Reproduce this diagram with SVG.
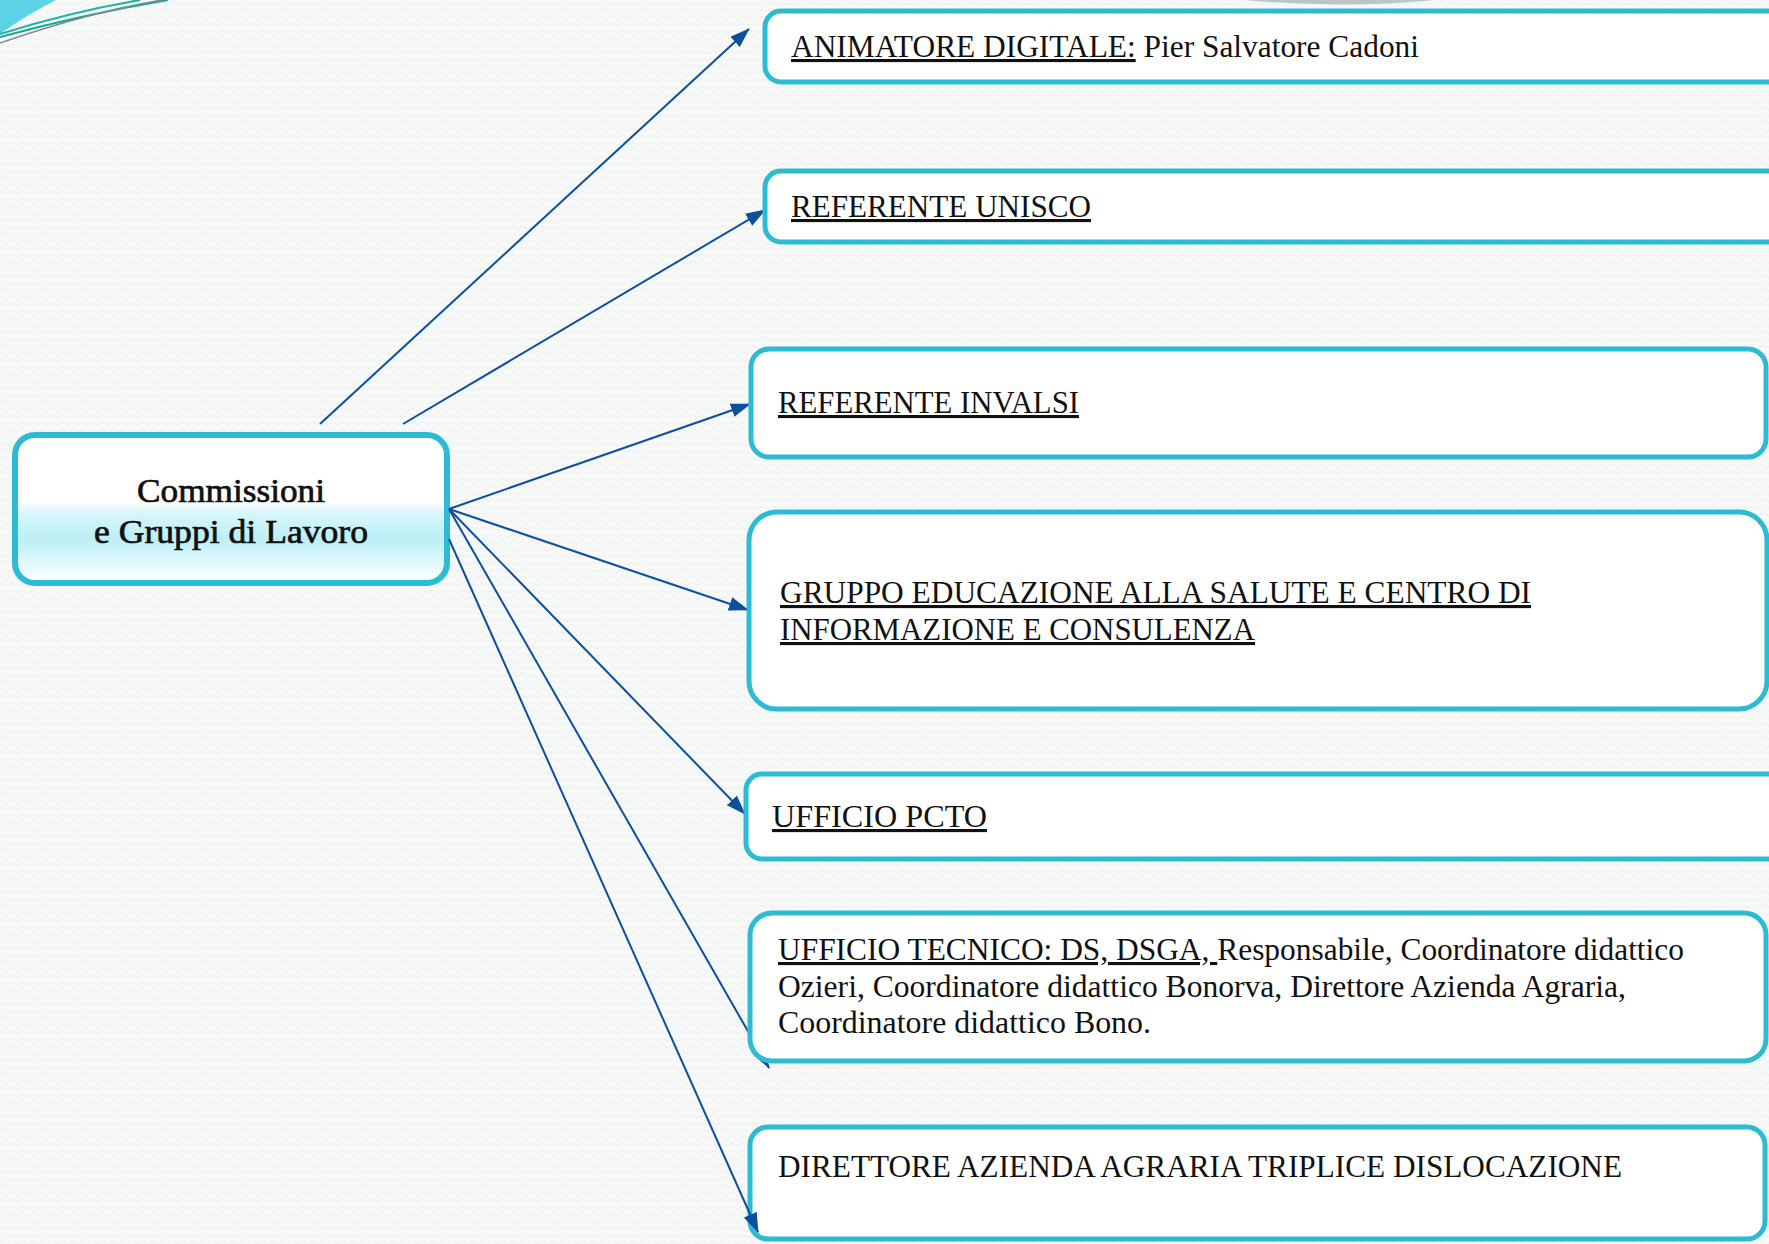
<svg xmlns="http://www.w3.org/2000/svg" width="1769" height="1244" viewBox="0 0 1769 1244">
<defs>
<pattern id="bgp" width="10" height="7" patternUnits="userSpaceOnUse"><rect width="10" height="7" fill="#F7F8F8"/><path d="M0,3.5 Q2.5,1 5,3.5 T10,3.5" fill="none" stroke="#EDEFEF" stroke-width="1"/></pattern>
<linearGradient id="cg" x1="0" y1="0" x2="0" y2="1"><stop offset="0" stop-color="#ffffff"/><stop offset="0.45" stop-color="#ffffff"/><stop offset="0.53" stop-color="#D6F6FA"/><stop offset="0.7" stop-color="#BDEFF7"/><stop offset="0.88" stop-color="#E2FAFD"/><stop offset="1" stop-color="#ffffff"/></linearGradient>
<marker id="ah" markerUnits="userSpaceOnUse" markerWidth="20" markerHeight="14" refX="19" refY="7" orient="auto"><path d="M0,0 L20,7 L0,14 z" fill="#0D4F9C"/></marker>
</defs>
<style>
.box{fill:#ffffff;stroke:#2DBBD4;stroke-width:5}
.t{font-family:"Liberation Serif","Times New Roman",serif;font-size:31px;fill:#111111}
.u{text-decoration:underline}
.c{font-family:"Liberation Serif","Times New Roman",serif;font-size:34px;fill:#111111;stroke:#111111;stroke-width:0.7;text-anchor:middle}
.con{stroke:#0D4F9C;stroke-width:2;fill:none;marker-end:url(#ah)}
</style>
<rect id="background" width="1769" height="1244" fill="url(#bgp)"/>
<g id="decoration">
<path d="M0,0 L56,0 Q28,14 0,34 Z" fill="#5CD3E4"/>
<path d="M0,34 Q70,12 140,0" fill="none" stroke="#1FB3A4" stroke-width="2"/>
<path d="M0,37 Q85,14 168,0" fill="none" stroke="#16A88F" stroke-width="2"/>
<path d="M0,43 Q90,12 162,0" fill="none" stroke="#7F8A8C" stroke-width="1.5"/>
<path d="M1245,0 Q1340,9 1435,0 Z" fill="#A8AEB0" opacity="0.7"/>
</g>
<g id="node-center">
<rect x="15" y="435" width="432" height="148" rx="20" fill="url(#cg)" stroke="#2DBBD4" stroke-width="6"/>
<text class="c" x="231" y="502" textLength="188" lengthAdjust="spacingAndGlyphs">Commissioni</text>
<text class="c" x="231" y="543" textLength="274" lengthAdjust="spacingAndGlyphs">e Gruppi di Lavoro</text>
</g>
<g id="node-direttore">
<rect class="box" x="750" y="1127" width="1015" height="112" rx="18"/>
<text class="t" x="778" y="1177" textLength="844" lengthAdjust="spacingAndGlyphs">DIRETTORE AZIENDA AGRARIA TRIPLICE DISLOCAZIONE</text>
</g>
<g id="connectors">
<line class="con" x1="320" y1="424" x2="749" y2="29"/>
<line class="con" x1="403" y1="424" x2="765" y2="210"/>
<line class="con" x1="449" y1="509" x2="750" y2="404"/>
<line class="con" x1="449" y1="509" x2="748" y2="610"/>
<line class="con" x1="449" y1="509" x2="745" y2="814"/>
<line class="con" x1="449" y1="509" x2="769" y2="1068"/>
<line class="con" x1="449" y1="539" x2="758" y2="1232"/>
</g>
<g id="node-animatore">
<rect class="box" x="765" y="11" width="1030" height="71" rx="16"/>
<text class="t" x="791" y="57" textLength="628" lengthAdjust="spacingAndGlyphs"><tspan class="u">ANIMATORE DIGITALE:</tspan> Pier Salvatore Cadoni</text>
</g>
<g id="node-unisco">
<rect class="box" x="765" y="171" width="1030" height="71" rx="16"/>
<text class="t u" x="791" y="217" textLength="300" lengthAdjust="spacingAndGlyphs">REFERENTE UNISCO</text>
</g>
<g id="node-invalsi">
<rect class="box" x="751" y="349" width="1015" height="108" rx="18"/>
<text class="t u" x="778" y="413" textLength="301" lengthAdjust="spacingAndGlyphs">REFERENTE INVALSI</text>
</g>
<g id="node-gruppo">
<rect class="box" x="749" y="512" width="1018" height="197" rx="28"/>
<text class="t u" x="780" y="603" textLength="751" lengthAdjust="spacingAndGlyphs">GRUPPO EDUCAZIONE ALLA SALUTE E CENTRO DI</text>
<text class="t u" x="780" y="640" textLength="475" lengthAdjust="spacingAndGlyphs">INFORMAZIONE E CONSULENZA</text>
</g>
<g id="node-pcto">
<rect class="box" x="746" y="774" width="1050" height="85" rx="16"/>
<text class="t u" x="772" y="827" textLength="215" lengthAdjust="spacingAndGlyphs">UFFICIO PCTO</text>
</g>
<g id="node-tecnico">
<rect class="box" x="750" y="913" width="1016" height="148" rx="22"/>
<text class="t" x="778" y="960" textLength="906" lengthAdjust="spacingAndGlyphs"><tspan class="u">UFFICIO TECNICO: DS, DSGA, </tspan>Responsabile, Coordinatore didattico</text>
<text class="t" x="778" y="997" textLength="848" lengthAdjust="spacingAndGlyphs">Ozieri, Coordinatore didattico Bonorva, Direttore Azienda Agraria,</text>
<text class="t" x="778" y="1033" textLength="373" lengthAdjust="spacingAndGlyphs">Coordinatore didattico Bono.</text>
</g>
</svg>
